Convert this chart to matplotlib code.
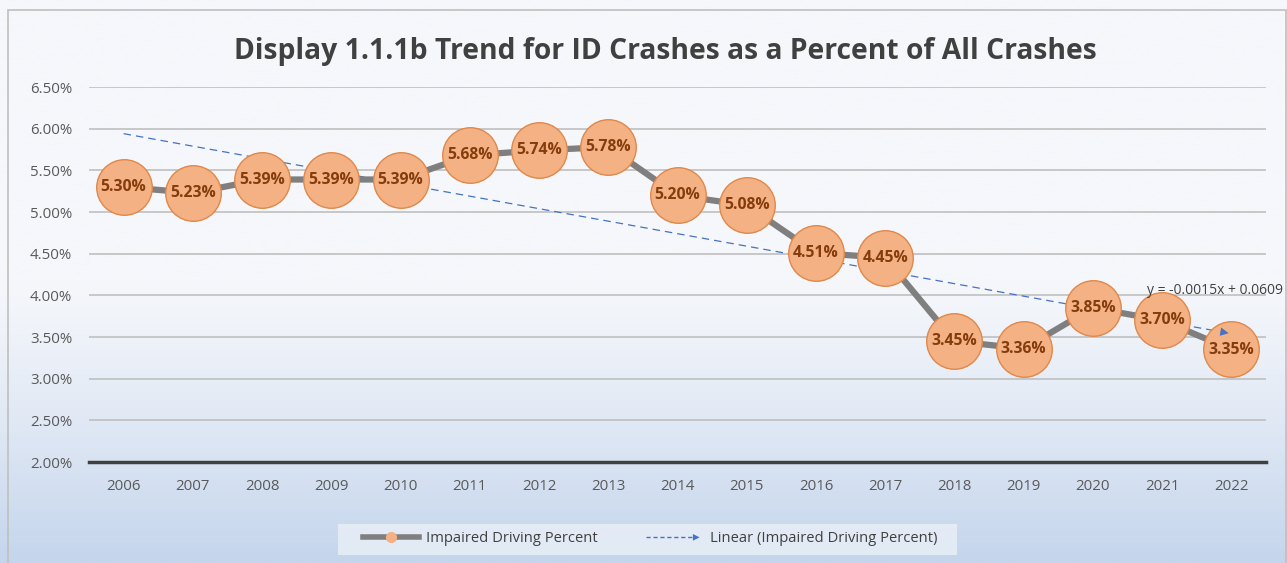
import matplotlib.pyplot as plt
import matplotlib.lines as mlines
from matplotlib.patches import Rectangle, FancyArrowPatch
from matplotlib.legend_handler import HandlerBase
import numpy as np

# chart data
years = ['2006', '2007', '2008', '2009', '2010', '2011', '2012', '2013', '2014',
         '2015', '2016', '2017', '2018', '2019', '2020', '2021', '2022']
pct = [5.30, 5.23, 5.39, 5.39, 5.39, 5.68, 5.74, 5.78, 5.20,
       5.08, 4.51, 4.45, 3.45, 3.36, 3.85, 3.70, 3.35]
trend_slope = -0.0015
trend_icept = 0.0609
y_ticks = [2.0, 2.5, 3.0, 3.5, 4.0, 4.5, 5.0, 5.5, 6.0, 6.5]

title = 'Display 1.1.1b Trend for ID Crashes as a Percent of All Crashes'
series_name = 'Impaired Driving Percent'
trend_name = 'Linear (Impaired Driving Percent)'

plt.rcParams['font.family'] = ['Open Sans', 'DejaVu Sans']

W, H = 1287, 563
fig = plt.figure(figsize=(W / 100, H / 100), dpi=100)

# background gradient
bg = fig.add_axes([0, 0, 1, 1], zorder=-10)
bg.set_axis_off()
top_c = np.array([245, 247, 251]) / 255
bot_c = np.array([196, 213, 236]) / 255
t = np.linspace(0, 1, 400)
w = np.clip((t - 0.5) / 0.5, 0, 1) ** 1.2
grad = top_c[None, :] * (1 - w[:, None]) + bot_c[None, :] * w[:, None]
bg.imshow(grad[:, None, :], aspect='auto', extent=[0, 1, 0, 1])
bg.set_xlim(0, 1)
bg.set_ylim(0, 1)
bg.add_patch(Rectangle((8 / W, -0.01), (1286 - 8) / W, 1 - 10 / H + 0.01,
                       fill=False, edgecolor='#bfbfbf', lw=1.2))
# legend backdrop
bg.add_patch(Rectangle((338 / W, 1 - 555 / H), (957 - 338) / W, 31 / H,
                       facecolor='#e6edf6', edgecolor='none', alpha=0.9))

ax = fig.add_axes([89 / W, 1 - 462 / H, (1266 - 89) / W, (462 - 87) / H])
ax.set_facecolor('none')
x = np.arange(len(years))
ax.set_xlim(-0.5, len(years) - 0.5)
ax.set_ylim(2.0, 6.5)

for yv in y_ticks[1:]:
    ax.axhline(yv, color='#bfbfbf', lw=1.2, zorder=1)
ax.axhline(2.0, color='#404040', lw=2.5, zorder=2, clip_on=False)
for s in ax.spines.values():
    s.set_visible(False)

ax.set_yticks(y_ticks)
ax.set_yticklabels(['%.2f%%' % v for v in y_ticks])
ax.set_xticks(x)
ax.set_xticklabels(years)
ax.tick_params(length=0, labelsize=10.8, colors='#595959')
ax.tick_params(axis='y', pad=12)
ax.tick_params(axis='x', pad=12)

# trend line
tx = np.arange(1, len(years) + 1)
ty = (trend_slope * tx + trend_icept) * 100
ax.plot(x, ty, color='#4472c4', lw=0.9, ls=(0, (6, 4)), zorder=3)
ax.add_patch(FancyArrowPatch((x[-2] + 0.6, ty[-2] + 0.6 * (ty[-1] - ty[-2])),
                             (x[-1], ty[-1]), arrowstyle='-|>', mutation_scale=15,
                             color='#4472c4', lw=0, zorder=6))
ax.text(x[-1] + 0.74, ty[-1] + 0.52, 'y = -0.0015x + 0.0609', fontsize=10,
        color='#404040', ha='right', va='center', zorder=7, clip_on=False)

# series
ax.plot(x, pct, color='#7f7f7f', lw=4.5, zorder=4, solid_capstyle='round')
ax.plot(x, pct, 'o', ms=40, mfc='#f4b183', mec='#e0884a', mew=1.0, zorder=5)
for xi, v in zip(x, pct):
    ax.text(xi, v, '%.2f%%' % v, ha='center', va='center', fontsize=11.3,
            fontweight='bold', color='#843c0c', zorder=8)

fig.text(665 / W, 1 - 52 / H, title, ha='center', va='center', fontsize=20.3,
         fontweight='bold', color='#404040')

# legend
h1 = mlines.Line2D([], [], color='#7f7f7f', lw=4, marker='o', ms=7,
                   mfc='#f4b183', mec='#f4b183')


class ArrowHandler(HandlerBase):
    def create_artists(self, legend, orig, xd, yd, width, height, fontsize, trans):
        ln = mlines.Line2D([xd, xd + width - 6], [yd + height / 2] * 2,
                           color='#4472c4', lw=1, ls=(0, (3, 2)), transform=trans)
        ar = FancyArrowPatch((xd + width - 10, yd + height / 2),
                             (xd + width, yd + height / 2), arrowstyle='-|>',
                             mutation_scale=12, color='#4472c4', lw=0,
                             transform=trans)
        return [ln, ar]


h2 = mlines.Line2D([], [])
leg = fig.legend([h1, h2], [series_name, trend_name], loc='center',
                 bbox_to_anchor=(650 / W, 1 - 539 / H), ncol=2, frameon=False,
                 fontsize=10.6, handlelength=3.8, columnspacing=3.3,
                 handler_map={h2: ArrowHandler()}, borderpad=0,
                 handletextpad=0.5, borderaxespad=0)
for tx_ in leg.get_texts():
    tx_.set_color('#404040')

fig.savefig('out.png', dpi=100)
